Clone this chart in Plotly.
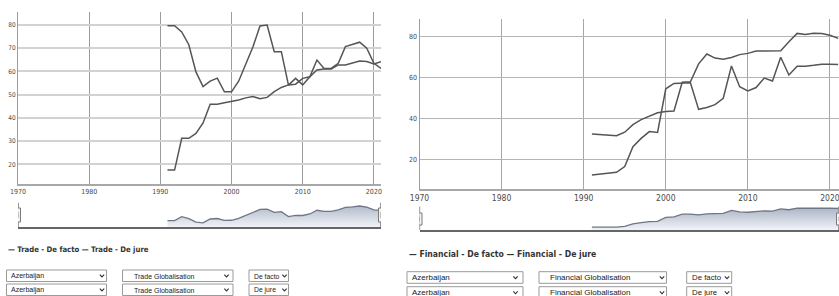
import plotly.graph_objects as go

# ---------------- data ----------------
years = list(range(1991, 2022))

trade_de_facto = [79.7, 79.7, 77.0, 71.5, 59.8, 53.5, 55.8, 57.1, 51.2, 51.2,
                  55.8, 63.5, 70.5, 79.6, 80.0, 68.5, 68.5, 54.1, 57.0, 54.2,
                  57.7, 64.9, 61.3, 61.3, 63.5, 70.7, 71.5, 72.6, 70.0, 63.5, 61.3]
trade_de_jure = [17.5, 17.5, 31.2, 31.2, 33.3, 37.8, 45.9, 45.9, 46.5, 47.0,
                 47.7, 48.6, 49.2, 48.2, 48.8, 51.3, 53.1, 54.2, 54.5, 57.0,
                 57.7, 60.6, 61.0, 61.0, 62.8, 62.8, 63.5, 64.5, 64.3, 63.2, 64.2]

fin_de_facto = [12.5, 13.0, 13.4, 13.8, 16.6, 26.3, 30.3, 33.6, 33.2, 54.4,
                57.0, 57.0, 57.3, 44.4, 45.3, 46.7, 49.8, 65.5, 55.4, 53.3,
                55.0, 59.6, 58.2, 69.7, 61.1, 65.4, 65.4, 65.8, 66.3, 66.3, 66.2]
fin_de_jure = [32.4, 32.1, 31.8, 31.6, 33.3, 37.0, 39.4, 41.2, 42.7, 43.3,
               43.6, 57.6, 57.8, 66.5, 71.3, 69.3, 68.8, 69.6, 71.0, 71.6,
               72.7, 72.7, 72.8, 72.9, 77.2, 81.3, 80.8, 81.4, 81.3, 80.4, 78.9]

x_ticks = [1970, 1980, 1990, 2000, 2010, 2020]
x_tick_labels = ["1970", "1980", "1990", "2000", "2010", "2020"]
trade_y_ticks = [20, 30, 40, 50, 60, 70, 80]
fin_y_ticks = [20, 40, 60, 80]

trade_legend = "— Trade - De facto — Trade - De jure"
fin_legend = "— Financial - De facto — Financial - De jure"
country_label = "Azerbaijan"
trade_indicator = "Trade Globalisation"
fin_indicator = "Financial Globalisation"
type_labels = ["De facto", "De jure"]

# navigator shows the average of the two series
trade_nav = [(a + b) / 2 for a, b in zip(trade_de_facto, trade_de_jure)]
fin_nav = [(a + b) / 2 for a, b in zip(fin_de_facto, fin_de_jure)]

# ---------------- layout helpers ----------------
W, H = 839, 296
def px(x):
    return x / W
def py(y):
    return 1 - y / H

LINE = "#555555"
NARROW = "Liberation Sans Narrow, DejaVu Sans Condensed, Roboto Condensed, Arial Narrow, sans-serif"
SANS = "Liberation Sans, Arial, sans-serif"

fig = go.Figure()

def add_line(xa, ya, ys, name):
    fig.add_trace(go.Scatter(x=years, y=ys, mode="lines", name=name,
                             xaxis=xa, yaxis=ya,
                             line=dict(color=LINE, width=1.5),
                             hoverinfo="skip"))

add_line("x", "y", trade_de_facto, "Trade - De facto")
add_line("x", "y", trade_de_jure, "Trade - De jure")
add_line("x2", "y2", fin_de_facto, "Financial - De facto")
add_line("x2", "y2", fin_de_jure, "Financial - De jure")

def add_nav(xa, ya, ys, lo, hi):
    fig.add_trace(go.Scatter(x=years, y=ys, mode="lines", xaxis=xa, yaxis=ya,
                             line=dict(color="#6f7685", width=1.3),
                             fill="tozeroy",
                             fillgradient=dict(type="vertical",
                                               colorscale=[[0, "#f1f3f7"], [1, "#a9b3c5"]],
                                               start=lo, stop=hi),
                             hoverinfo="skip"))

TRADE_NAV_RANGE = [39.5, 73.1]
FIN_NAV_RANGE = [15, 76.5]
add_nav("x3", "y3", trade_nav, *TRADE_NAV_RANGE)
add_nav("x4", "y4", fin_nav, *FIN_NAV_RANGE)

common = dict(automargin=False, zeroline=False, fixedrange=True, ticks="")

fig.update_layout(
    template="none",
    width=W, height=H,
    margin=dict(l=0, r=0, t=0, b=0, pad=0),
    paper_bgcolor="white", plot_bgcolor="white",
    showlegend=False,
    xaxis=dict(domain=[px(18), px(381)], range=[1970, 2021], anchor="y",
               tickvals=x_ticks, ticktext=x_tick_labels, ticklabeloverflow="allow",
               tickfont=dict(family=NARROW, size=7, color="#4a4a4a"),
               showgrid=True, gridcolor="#9c9c9c", gridwidth=1,
               showline=True, linecolor="#a8a8a8", linewidth=1.5, **common),
    yaxis=dict(domain=[py(184), py(12)], range=[11.5, 85.6], anchor="x",
               tickvals=trade_y_ticks,
               tickfont=dict(family=NARROW, size=6.5, color="#4a4a4a"),
               showgrid=True, gridcolor="#d2d2d2", gridwidth=2,
               showline=True, linecolor="#9c9c9c", linewidth=1, **common),
    xaxis2=dict(domain=[px(419.5), 1], range=[1970, 2021.1], anchor="y2",
                tickvals=x_ticks, ticktext=x_tick_labels, ticklabeloverflow="allow",
                tickfont=dict(family=NARROW, size=8.5, color="#4a4a4a"),
                showgrid=True, gridcolor="#a6a6a6", gridwidth=1,
                showline=True, linecolor="#a8a8a8", linewidth=1.5, **common),
    yaxis2=dict(domain=[py(189), py(19)], range=[5.7, 88.3], anchor="x2",
                tickvals=fin_y_ticks,
                tickfont=dict(family=NARROW, size=7, color="#4a4a4a"),
                showgrid=True, gridcolor="#b4b4b4", gridwidth=1.3,
                showline=True, linecolor="#9c9c9c", linewidth=1, **common),
    xaxis3=dict(domain=[px(18), px(381)], range=[1970, 2021], anchor="y3",
                showgrid=False, showticklabels=False,
                showline=True, linecolor="#666666", linewidth=1.5, **common),
    yaxis3=dict(domain=[py(227.3), py(202.7)], range=TRADE_NAV_RANGE, anchor="x3",
                showgrid=False, showticklabels=False, showline=False, **common),
    xaxis4=dict(domain=[px(419.5), 1], range=[1970, 2021.1], anchor="y4",
                showgrid=False, showticklabels=False,
                showline=True, linecolor="#666666", linewidth=1.5, **common),
    yaxis4=dict(domain=[py(230), py(207)], range=FIN_NAV_RANGE, anchor="x4",
                showgrid=False, showticklabels=False, showline=False, **common),
)

shapes = []
annotations = []

# navigator handles
def handles(xref, xs, top, bottom, h0, h1):
    for xv in xs:
        shapes.append(dict(type="line", xref=xref, yref="paper", x0=xv, x1=xv,
                           y0=py(top), y1=py(bottom), line=dict(color="#666666", width=1.3)))
        shapes.append(dict(type="rect", xref=xref, yref="paper", xsizemode="pixel",
                           xanchor=xv, x0=-2.5, x1=2.5, y0=py(h1), y1=py(h0),
                           fillcolor="#f2f2f2", line=dict(color="#7a7a7a", width=1)))
        shapes.append(dict(type="line", xref=xref, yref="paper", xsizemode="pixel",
                           xanchor=xv, x0=0, x1=0, y0=py(h1 - 4), y1=py(h0 + 4),
                           line=dict(color="#7a7a7a", width=0.8)))

handles("x3", [1970, 2021], 202.7, 227.3, 208, 222)
handles("x4", [1970, 2021.1], 206.5, 230, 213, 225)

# legends (text)
annotations.append(dict(text="<b>" + trade_legend + "</b>", x=px(6), y=py(249.5),
                        xref="paper", yref="paper", xanchor="left", yanchor="middle",
                        showarrow=False, font=dict(family=NARROW, size=7.7, color="#333333")))
annotations.append(dict(text="<b>" + fin_legend + "</b>", x=px(407), y=py(253.5),
                        xref="paper", yref="paper", xanchor="left", yanchor="middle",
                        showarrow=False, font=dict(family=NARROW, size=8.6, color="#333333")))

# dropdown boxes
def dropdown(x0, x1, y0, y1, label, tx, chev_x, fs):
    shapes.append(dict(type="rect", xref="paper", yref="paper",
                       x0=px(x0), x1=px(x1), y0=py(y1), y1=py(y0),
                       fillcolor="white", line=dict(color="#9a9a9a", width=1)))
    cy = (y0 + y1) / 2
    annotations.append(dict(text=label, x=px(tx), y=py(cy + 0.3), xref="paper", yref="paper",
                            xanchor="left", yanchor="middle", showarrow=False,
                            font=dict(family=SANS, size=fs, color="#222222")))
    path = "M {} {} L {} {} L {} {}".format(px(chev_x - 2.2), py(cy - 1.2),
                                             px(chev_x), py(cy + 1.2),
                                             px(chev_x + 2.2), py(cy - 1.2))
    shapes.append(dict(type="path", xref="paper", yref="paper", path=path,
                       line=dict(color="#333333", width=1.1)))

left_rows = [(270, 281.5), (284, 295.5)]
for i, (a, b) in enumerate(left_rows):
    dropdown(6.5, 106.5, a, b, country_label, 9, 102, 7)
    dropdown(122.5, 233, a, b, trade_indicator, 131.5, 226.5, 7)
    dropdown(249, 288.5, a, b, type_labels[i], 251.5, 284.5, 6.8)

right_rows = [(271.7, 283.3), (286.7, 298.5)]
for i, (a, b) in enumerate(right_rows):
    dropdown(407, 523, a, b, country_label, 410, 515.5, 8)
    dropdown(539, 666.5, a, b, fin_indicator, 548, 662, 8)
    dropdown(686.7, 731.7, a, b, type_labels[i], 689.5, 727, 7.8)

fig.update_layout(shapes=shapes, annotations=annotations)

fig.write_html("out.html", config={"displayModeBar": False},
               post_script="document.body.style.margin='0';document.body.style.overflow='hidden';")
